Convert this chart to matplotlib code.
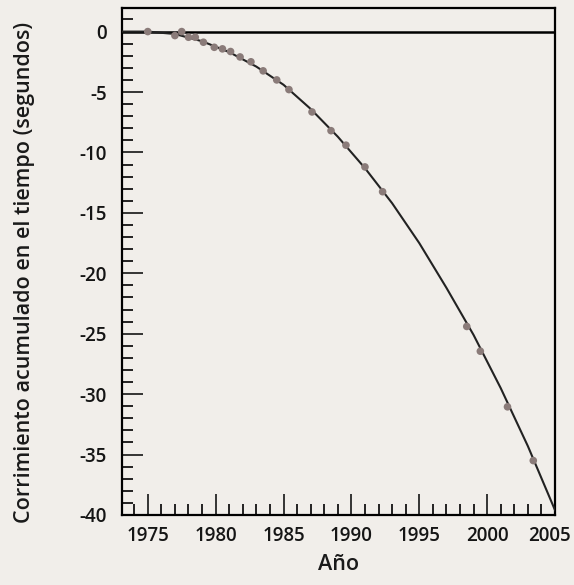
import matplotlib
matplotlib.use("Agg")
from matplotlib import pyplot as plt
from matplotlib.transforms import ScaledTranslation

# Measured points (year, accumulated offset in seconds)
obs_years = [1975.0, 1977.0, 1977.5, 1978.0, 1978.5, 1979.1, 1979.9, 1980.5, 1981.1,
             1981.8, 1982.6, 1983.5, 1984.5, 1985.4, 1987.1, 1988.5, 1989.6, 1991.0,
             1992.3, 1998.5, 1999.5, 2001.5, 2003.4]
obs_offset = [0.0, -0.33, 0.0, -0.47, -0.47, -0.88, -1.3, -1.43, -1.65,
              -2.1, -2.5, -3.25, -4.0, -4.8, -6.65, -8.2, -9.4, -11.2,
              -13.25, -24.4, -26.45, -31.05, -35.5]

# Fitted curve
fit_years = [1973.1, 1975, 1977, 1979, 1981, 1983, 1985, 1987, 1989, 1991,
             1993, 1995, 1997, 1999, 2001, 2003, 2005]
fit_offset = [0.0, 0.0, -0.2, -0.8, -1.7, -2.9, -4.4, -6.4, -8.7, -11.3,
              -14.2, -17.5, -21.2, -25.1, -29.5, -34.3, -39.6]

x_ticks = [1975, 1980, 1985, 1990, 1995, 2000, 2005]
y_ticks = [0, -5, -10, -15, -20, -25, -30, -35, -40]

bg = '#f1eeea'
plt.rcParams['font.family'] = ['Open Sans', 'DejaVu Sans']

fig = plt.figure(figsize=(5.74, 5.85), dpi=100, facecolor=bg)
ax = fig.add_axes([0.2125, 0.1197, 0.7544, 0.8666], facecolor=bg)

ax.axhline(0, color='black', lw=1.8, zorder=2)
ax.plot(fit_years, fit_offset, color='#222222', lw=1.5, zorder=3)
ax.scatter(obs_years, obs_offset, s=30, color='#8a7b79', edgecolors='none', zorder=4)

ax.set_xlim(1973.1, 2005.0)
ax.set_ylim(-40, 1.95)
ax.set_xticks(x_ticks)
ax.set_yticks(y_ticks)
ax.set_yticklabels([str(v) for v in y_ticks])
ax.set_xticks(range(1974, 2005), minor=True)
ax.set_yticks(range(-39, 2), minor=True)

ax.tick_params(which='major', direction='in', length=15, width=1.2, labelsize=13.5,
               colors='#151515', top=False, right=False)
ax.tick_params(which='minor', direction='in', length=8, width=1.2, top=False, right=False)
ax.tick_params(axis='y', which='major', pad=11)
ax.tick_params(axis='x', which='major', pad=8)
for lbl in ax.get_xticklabels() + ax.get_yticklabels():
    lbl.set_fontweight('semibold')
# nudge the last year label left so it stays on the canvas
last = ax.get_xticklabels()[-1]
last.set_transform(last.get_transform() + ScaledTranslation(-4 / 72, 0, fig.dpi_scale_trans))

for sp in ax.spines.values():
    sp.set_linewidth(1.6)
    sp.set_color('black')

ax.set_xlabel('Año', fontsize=15.5, fontweight='semibold', color='#1a1a1a', labelpad=6)
ax.set_ylabel('Corrimiento acumulado en el tiempo (segundos)', fontsize=15.5,
              fontweight='semibold', color='#1a1a1a')
ax.yaxis.set_label_coords(-0.2, 0.479)

fig.savefig('out.png', dpi=100, facecolor=bg)
